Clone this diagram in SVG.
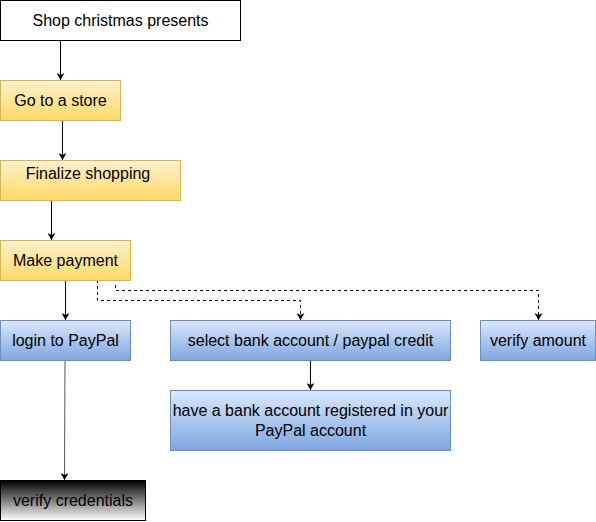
<svg xmlns="http://www.w3.org/2000/svg" width="596" height="522" viewBox="0 0 596 522">
<defs>
<linearGradient id="gy" x1="0" y1="0" x2="0" y2="1"><stop offset="0" stop-color="#fff2cc"/><stop offset="1" stop-color="#ffd966"/></linearGradient>
<linearGradient id="gb" x1="0" y1="0" x2="0" y2="1"><stop offset="0" stop-color="#dae8fc"/><stop offset="1" stop-color="#7ea6e0"/></linearGradient>
<linearGradient id="gk" x1="0" y1="0" x2="0" y2="1"><stop offset="0" stop-color="#000000"/><stop offset="1" stop-color="#ffffff"/></linearGradient>
<marker id="ah" markerWidth="8" markerHeight="8" refX="7" refY="4" orient="auto" markerUnits="userSpaceOnUse"><path d="M0,0 L7,4 L0,8 L2,4 Z" fill="#000"/></marker>
</defs>
<style>
.y{fill:url(#gy);stroke:#d6b656;stroke-width:1}
.b{fill:url(#gb);stroke:#6c8ebf;stroke-width:1}
.t{font-family:"Liberation Sans",Arial,sans-serif;font-size:16px;fill:#000;text-anchor:middle}
.c{fill:none;stroke:#000;stroke-width:1;marker-end:url(#ah)}
.d{stroke-dasharray:3 3}
</style>
<g id="connectors">
<path class="c" d="M60.5,40 L60.5,80"/>
<path class="c" d="M62.5,120 L62.5,160"/>
<path class="c" d="M51.5,200 L51.5,240"/>
<path class="c" d="M65.5,280 L65.5,320"/>
<path class="c d" d="M97.5,280 L97.5,300.5 L300.5,300.5 L300.5,320"/>
<path class="c d" d="M115.5,285 L115.5,290.5 L538.5,290.5 L538.5,320"/>
<path class="c" d="M310.5,360 L310.5,390"/>
<path class="c" d="M65,360 L64.5,480" style="stroke:#555"/>
</g>
<g id="shop"><rect x="0.5" y="0.5" width="240" height="40" fill="#fff" stroke="#000"/><text class="t" x="120.5" y="26">Shop christmas presents</text></g>
<g id="store"><rect class="y" x="0.5" y="80.5" width="120" height="40"/><text class="t" x="60.5" y="106">Go to a store</text></g>
<g id="finalize"><rect class="y" x="0.5" y="160.5" width="180" height="40"/><text class="t" x="88" y="179">Finalize shopping</text></g>
<g id="payment"><rect class="y" x="0.5" y="240.5" width="130" height="40"/><text class="t" x="65.5" y="266">Make payment</text></g>
<g id="login"><rect class="b" x="0.5" y="320.5" width="130" height="40"/><text class="t" x="65.5" y="346">login to PayPal</text></g>
<g id="select"><rect class="b" x="170.5" y="320.5" width="280" height="40"/><text class="t" x="310.5" y="346">select bank account / paypal credit</text></g>
<g id="amount"><rect class="b" x="480.5" y="320.5" width="115" height="40"/><text class="t" x="538" y="346">verify amount</text></g>
<g id="bank"><rect class="b" x="170.5" y="390.5" width="280" height="60"/><text class="t" x="310.5" y="416">have a bank account registered in your</text><text class="t" x="310.5" y="436">PayPal account</text></g>
<g id="credentials"><rect x="0.5" y="480.5" width="145" height="40" fill="url(#gk)" stroke="#000"/><text class="t" x="73" y="506">verify credentials</text></g>
</svg>
